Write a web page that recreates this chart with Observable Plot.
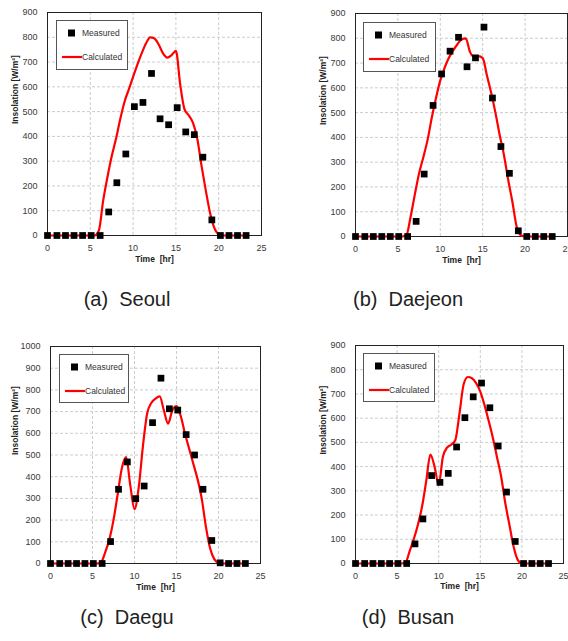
<!DOCTYPE html>
<html><head><meta charset="utf-8">
<script src="https://cdn.jsdelivr.net/npm/d3@7"></script>
<script src="https://cdn.jsdelivr.net/npm/@observablehq/plot@0.6"></script>
<style>
body{margin:0;background:#fff;}
#root{position:relative;width:568px;height:641px;overflow:hidden;background:#fff;font-family:"Liberation Sans",Arial,sans-serif;}
.panel{position:absolute;width:284px;height:270px;}
.legend{position:absolute;border:1px solid #555;background:#fff;box-sizing:border-box;}
.legend span{position:absolute;font-size:8.5px;color:#333;line-height:10px;white-space:nowrap;}
.caption{position:absolute;width:200px;text-align:center;font-size:20px;color:#222;line-height:24px;white-space:pre;}
</style></head><body><div id="root"></div>
<script>
// measured hours (0..23)
const hours = [0,1.1,2.1,3.1,4.1,5.1,6.15,7.15,8.1,9.15,10.15,11.15,12.15,13.15,14.15,15.15,16.15,17.15,18.15,19.2,20.2,21.2,22.2,23.2];
const calcHours = [0,5,5.5,6,6.5,7,7.5,8,8.5,9,9.5,10,10.5,11,11.5,12,12.5,13,13.5,14,14.5,15,15.5,16,16.5,17,17.5,18,18.5,19,19.5,20,20.5,21,23.2];

const seoulMeasured = [0,0,0,0,0,0,0,95,213,329,520,537,654,471,447,516,418,407,316,63,0,0,0,0];
const seoulCalc = [0,0,0,20,140,235,320,390,470,540,590,640,690,735,775,800,795,770,735,718,728,745,610,510,485,455,390,280,180,90,30,5,0,0,0];

const daejeonMeasured = [0,0,0,0,0,0,0,61,252,529,656,748,804,685,721,845,559,363,255,23,0,0,0,0];
const daejeonCalc = [0,0,0,5,80,170,255,320,390,480,560,630,680,720,750,775,795,800,745,725,728,720,650,580,500,410,330,230,140,40,5,0,0,0,0];

const daeguMeasured = [0,0,0,0,0,0,0,101,342,468,299,357,649,854,713,707,594,500,342,106,3,0,0,0];
const daeguCalc = [0,0,0,5,50,110,200,320,440,490,360,250,350,540,690,740,760,770,705,645,705,725,680,600,530,460,390,300,170,70,20,3,0,0,0];

const busanMeasured = [0,0,0,0,0,0,0,81,184,363,335,372,481,602,688,745,643,485,295,91,0,0,0,0];
const busanCalc = [0,0,0,3,50,100,160,235,340,450,400,325,440,478,490,510,620,740,770,765,745,710,655,590,520,440,360,250,160,70,15,0,0,0,0];

const xTicks = [0,5,10,15,20,25];
const xGrid = [5,10,15,20];
const yTicks900 = [0,100,200,300,400,500,600,700,800,900];
const yGrid900 = [100,200,300,400,500,600,700,800];
const yTicks1000 = [0,100,200,300,400,500,600,700,800,900,1000];
const yGrid1000 = [100,200,300,400,500,600,700,800,900];

const captions = ["(a)  Seoul","(b)  Daejeon","(c)  Daegu","(d)  Busan"];
const legendLabels = ["Measured","Calculated"];
const yLabel = "Insolation [W/m\u00B2]";
const xLabel = "Time  [hr]";

const panels = [
  {measured: seoulMeasured, calc: seoulCalc, yMax:900, yTicks:yTicks900, yGrid:yGrid900, left:0, top:0, m:{l:47,r:23,t:12,b:35}, lab:{dx:-32,dy:26}, legend:{x:56,y:20,w:72,h:50}, cap:{cx:127,cy:299}},
  {measured: daejeonMeasured, calc: daejeonCalc, yMax:900, yTicks:yTicks900, yGrid:yGrid900, left:284, top:0, m:{l:71,r:1,t:13,b:34}, lab:{dx:-32,dy:26}, legend:{x:79,y:22,w:73,h:50}, cap:{cx:408,cy:299}},
  {measured: daeguMeasured, calc: daeguCalc, yMax:1000, yTicks:yTicks1000, yGrid:yGrid1000, left:0, top:330, m:{l:50,r:24,t:16,b:37}, lab:{dx:-35,dy:26}, legend:{x:59,y:24,w:70,h:49}, cap:{cx:127,cy:617}},
  {measured: busanMeasured, calc: busanCalc, yMax:900, yTicks:yTicks900, yGrid:yGrid900, left:284, top:330, m:{l:71,r:5,t:15,b:37}, lab:{dx:-32,dy:25}, legend:{x:79,y:23,w:72,h:49}, cap:{cx:408,cy:617}}
];

const root = document.getElementById("root");
const font = '"Liberation Sans", Arial, sans-serif';

panels.forEach((p, i) => {
  const meas = hours.map((t, k) => ({t, v: p.measured[k]}));
  const calc = calcHours.map((t, k) => ({t, v: p.calc[k]}));
  const chart = Plot.plot({
    width: 284, height: 270,
    marginLeft: p.m.l, marginRight: p.m.r, marginTop: p.m.t, marginBottom: p.m.b,
    style: {fontSize: "9px", fontFamily: font, color: "#3a3a3a", background: "transparent"},
    x: {domain: [0, 25], ticks: xTicks, tickSize: 0, tickPadding: 9, label: null, tickFormat: d => String(d)},
    y: {domain: [0, p.yMax], ticks: p.yTicks, tickSize: 0, tickPadding: 10, label: null, tickFormat: d => String(d)},
    marks: [
      Plot.ruleX(xGrid, {stroke: "#cccccc", strokeDasharray: "3,2", strokeWidth: 1}),
      Plot.ruleY(p.yGrid, {stroke: "#cccccc", strokeDasharray: "3,2", strokeWidth: 1}),
      Plot.frame({stroke: "#222"}),
      Plot.line(calc, {x: "t", y: "v", stroke: "#ff0000", strokeWidth: 2.2, curve: "monotone-x"}),
      Plot.dot(meas, {x: "t", y: "v", symbol: "square", r: 3.8, fill: "#000", stroke: "none"}),
      Plot.text([yLabel], {text: d => d, frameAnchor: "left", rotate: -90, dx: p.lab.dx, fontWeight: "bold", fontSize: 8.5, fill: "#222"}),
      Plot.text([xLabel], {text: d => d, frameAnchor: "bottom", dy: p.lab.dy, fontWeight: "bold", fontSize: 8.5, fill: "#222"})
    ]
  });
  const div = document.createElement("div");
  div.className = "panel";
  div.style.left = p.left + "px";
  div.style.top = p.top + "px";
  div.appendChild(chart);

  // legend
  const lg = document.createElement("div");
  lg.className = "legend";
  lg.style.left = p.legend.x + "px";
  lg.style.top = p.legend.y + "px";
  lg.style.width = p.legend.w + "px";
  lg.style.height = p.legend.h + "px";
  lg.innerHTML = `<svg width="${p.legend.w}" height="${p.legend.h}" style="position:absolute;left:-1px;top:-1px;overflow:visible">
      <rect x="12" y="9.5" width="7" height="7" fill="#000"/>
      <line x1="6" x2="26" y1="37" y2="37" stroke="#ff0000" stroke-width="2.2"/>
    </svg>
    <span style="left:25px;top:7px">${legendLabels[0]}</span>
    <span style="left:25px;top:31px">${legendLabels[1]}</span>`;
  div.appendChild(lg);
  root.appendChild(div);

  const cap = document.createElement("div");
  cap.className = "caption";
  cap.style.left = (p.cap.cx - 100) + "px";
  cap.style.top = (p.cap.cy - 12) + "px";
  cap.textContent = captions[i];
  root.appendChild(cap);
});
</script>
</body></html>
